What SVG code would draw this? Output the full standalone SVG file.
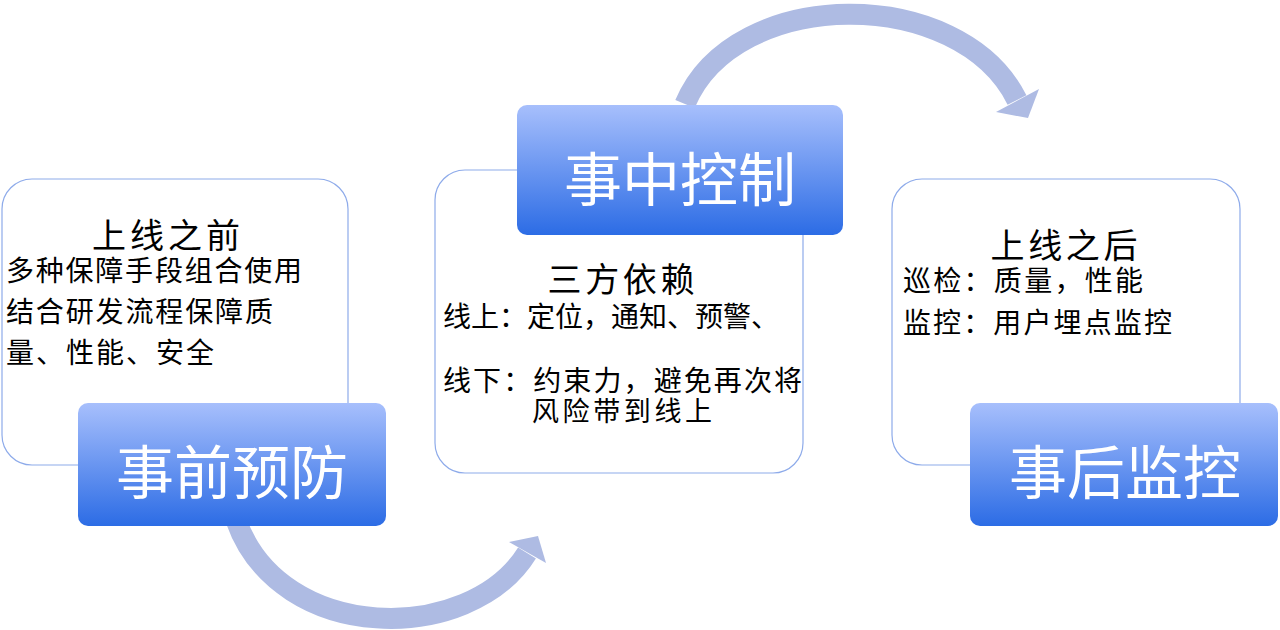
<svg xmlns="http://www.w3.org/2000/svg" width="1280" height="630" viewBox="0 0 1280 630">
<defs>
<linearGradient id="btn" x1="0" y1="0" x2="0" y2="1">
<stop offset="0" stop-color="#a7bffc"/>
<stop offset="1" stop-color="#2c6ce5"/>
</linearGradient>
<style>
.box{fill:#ffffff;stroke:#8eabea;stroke-width:1.2}
.btn{fill:url(#btn)}
.band{fill:none;stroke:#aebbe3;stroke-width:21}
.head{fill:#aebbe3}
.t{font-family:"Noto Sans CJK SC",sans-serif;fill:#000000}
.h{font-size:34px;text-anchor:middle}
.b{font-size:28px}
.s{font-size:27px}
.bt{font-family:"Noto Sans CJK SC",sans-serif;fill:#ffffff;font-size:58px;text-anchor:middle}
</style>
</defs>
<rect width="1280" height="630" fill="#ffffff"/>
<g id="connectors">
<path class="band" d="M685 104 C735 -15 960 -15 1017 100"/>
<polygon class="head" points="996,112 1039,89 1028,118"/>
<path class="band" d="M236 520 C280 645 470 645 527 553"/>
<polygon class="head" points="509,542 546,563 538,536"/>
</g>
<g id="before">
<rect class="box" x="2" y="179" width="346" height="286" rx="30"/>
<text class="t h" x="166" y="248" textLength="148">上线之前</text>
<text class="t b" x="6" y="281" textLength="296">多种保障手段组合使用</text>
<text class="t b" x="6" y="322" textLength="267">结合研发流程保障质</text>
<text class="t b" x="6" y="363" textLength="208">量、性能、安全</text>
</g>
<g id="btn-before">
<rect class="btn" x="78" y="403" width="308" height="123" rx="10"/>
<text class="bt" x="232" y="494">事前预防</text>
</g>
<g id="during">
<rect class="box" x="435" y="170" width="368" height="303" rx="30"/>
<text class="t h" x="621" y="292" textLength="147">三方依赖</text>
<text class="t b" x="443" y="327">线上：定位，通知、预警、</text>
<text class="t b" x="443" y="391" textLength="359">线下：约束力，避免再次将</text>
<text class="t s" x="532" y="421" textLength="180">风险带到线上</text>
</g>
<g id="btn-during">
<rect class="btn" x="517" y="105" width="326" height="130" rx="10"/>
<text class="bt" x="680" y="201">事中控制</text>
</g>
<g id="after">
<rect class="box" x="892" y="179" width="348" height="286" rx="30"/>
<text class="t h" x="1064" y="258" textLength="147">上线之后</text>
<text class="t b" x="903" y="291" textLength="240">巡检：质量，性能</text>
<text class="t b" x="903" y="333" textLength="269">监控：用户埋点监控</text>
</g>
<g id="btn-after">
<rect class="btn" x="970" y="403" width="308" height="123" rx="10"/>
<text class="bt" x="1125" y="494">事后监控</text>
</g>
</svg>
